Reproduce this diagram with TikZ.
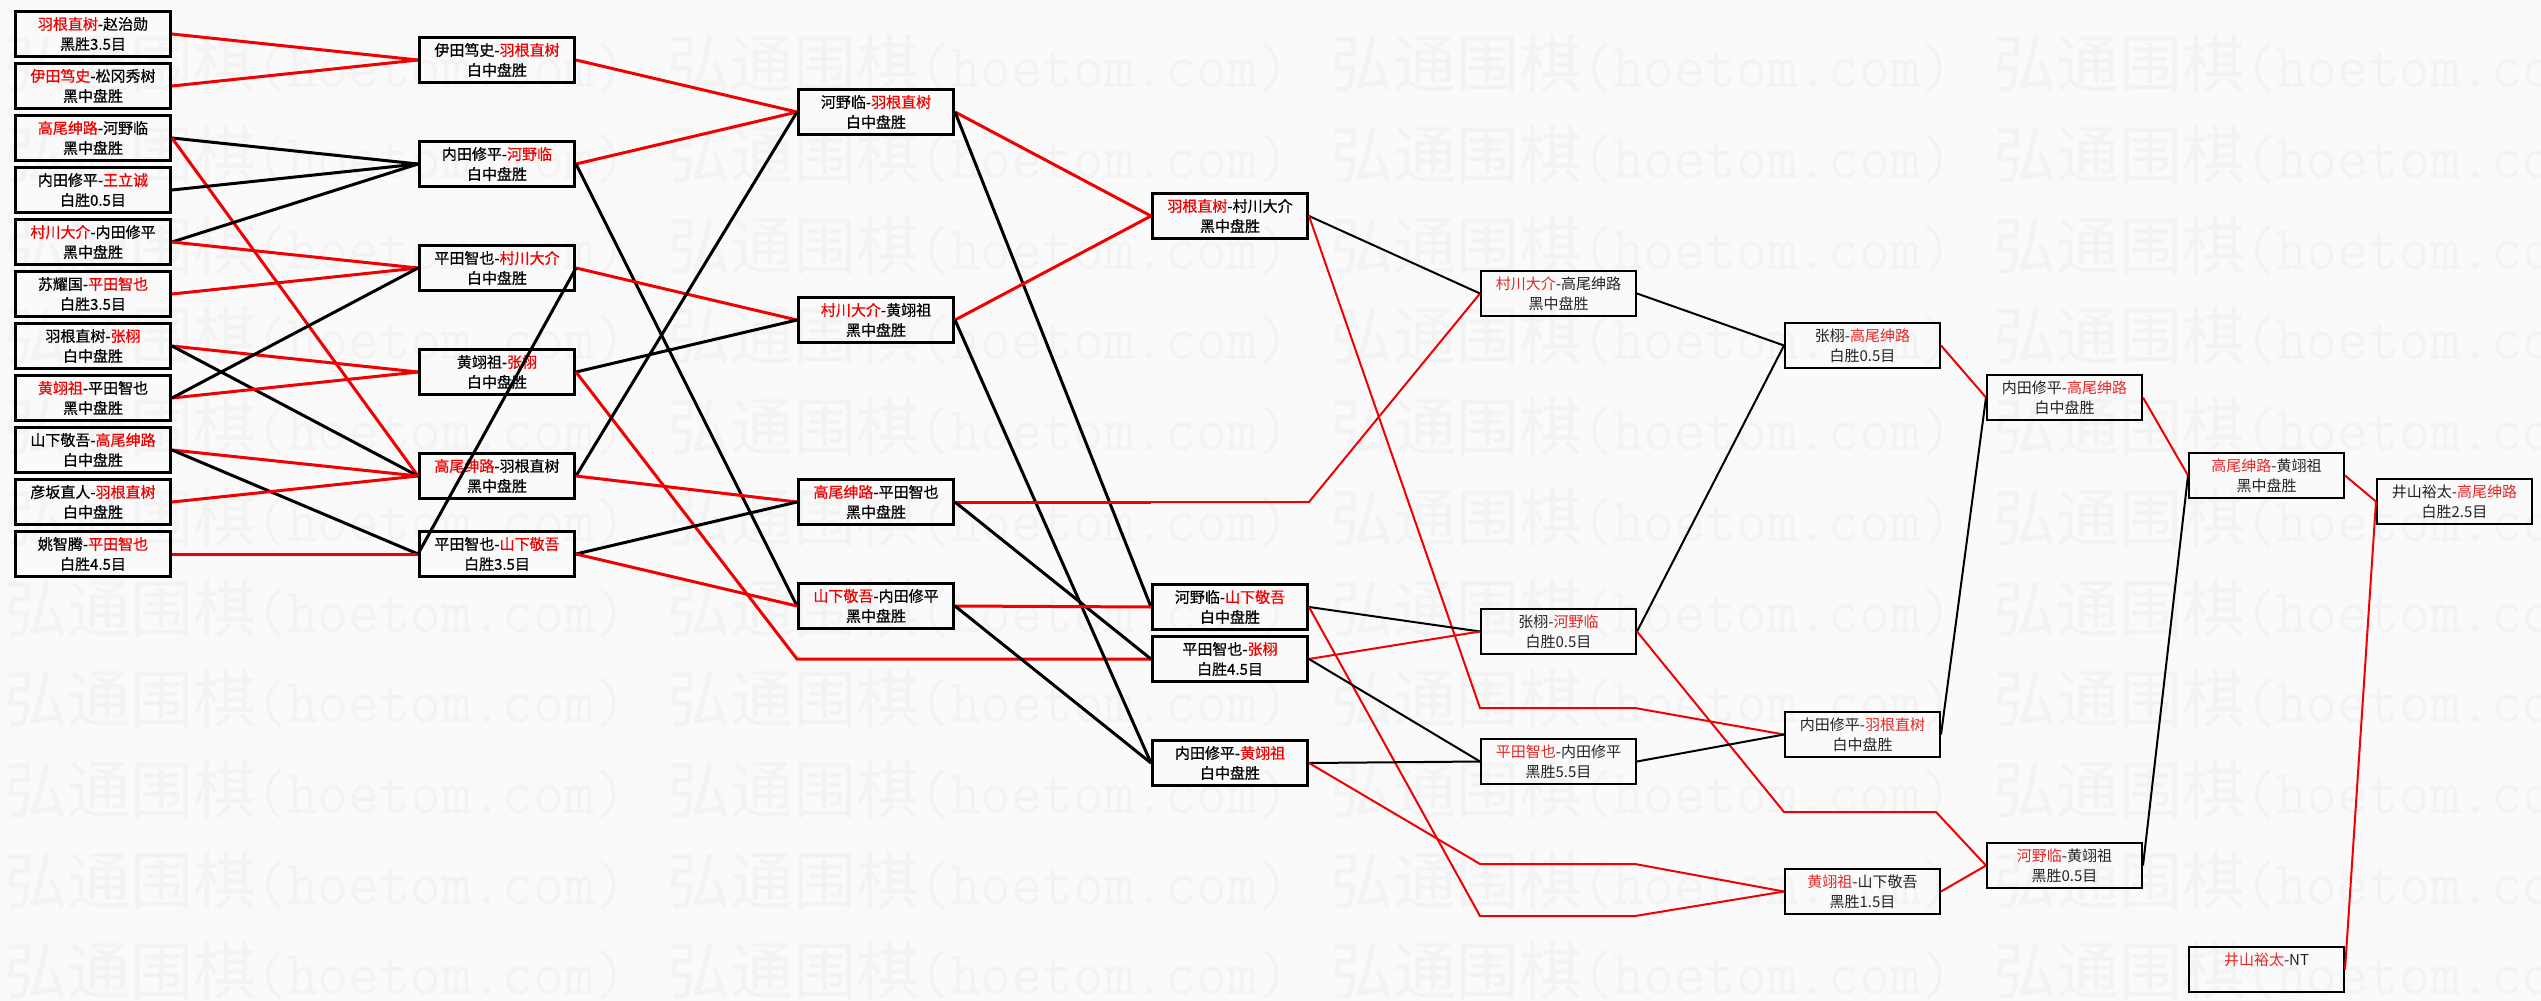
\documentclass[tikz,border=0pt]{standalone}
\usepackage{fontspec}
\setmainfont{Noto Sans CJK SC}
\newfontfamily\hvy{Noto Sans CJK SC}[FakeBold=0.6]
\newfontfamily\wmcjk{Noto Sans CJK SC}
\definecolor{wred}{RGB}{240,0,0}
\definecolor{lred}{RGB}{228,40,40}
\definecolor{lblk}{RGB}{35,35,35}
\definecolor{bgc}{RGB}{250,250,250}
\definecolor{wmc}{RGB}{243,243,243}
\newcommand{\rd}[1]{\textcolor{wred}{#1}}
\newcommand{\lr}[1]{\textcolor{lred}{#1}}
\newcommand{\wmtext}{{\wmcjk 弘通围棋}\scalebox{0.95}[1]{\ttfamily (hoetom.com)}}
\tikzset{
  bx/.style={draw=black, line width=3pt, rectangle, inner sep=0pt, anchor=north west,
    minimum width=155pt, minimum height=45pt, align=center,
    font=\hvy\fontsize{15}{20}\selectfont, execute at begin node={\rule{0pt}{17pt}}},
  bxl/.style={bx, line width=2pt, text=lblk, font=\normalfont\fontsize{15}{20}\selectfont},
  rline/.style={draw=wred, line width=3pt},
  bline/.style={draw=black, line width=3pt},
  rthin/.style={draw=wred, line width=2pt},
  bthin/.style={draw=black, line width=2pt},
  wmk/.style={anchor=west, inner sep=0pt, text=wmc, font=\fontsize{63}{63}\selectfont},
}
\begin{document}
\begin{tikzpicture}[x=1pt,y=-1pt]
\fill[bgc] (0,0) rectangle (2541,1001);
\useasboundingbox (0,0) rectangle (2541,1001);

% watermark
\begin{scope}
\clip (0,0) rectangle (2541,1001);
\foreach \r in {0,...,10}{
  \foreach \c in {0,...,3}{
    \node[wmk] (w-\r-\c) at ({4+663*\c},{64+90.7*\r}) {\wmtext};
  }
}
\end{scope}

% column 1
\node[bx] (a1) at (14,10) {\rd{羽根直树}-赵治勋\\黑胜3.5目};
\node[bx] (a2) at (14,62) {\rd{伊田笃史}-松冈秀树\\黑中盘胜};
\node[bx] (a3) at (14,114) {\rd{高尾绅路}-河野临\\黑中盘胜};
\node[bx] (a4) at (14,166) {内田修平-\rd{王立诚}\\白胜0.5目};
\node[bx] (a5) at (14,218) {\rd{村川大介}-内田修平\\黑中盘胜};
\node[bx] (a6) at (14,270) {苏耀国-\rd{平田智也}\\白胜3.5目};
\node[bx] (a7) at (14,322) {羽根直树-\rd{张栩}\\白中盘胜};
\node[bx] (a8) at (14,374) {\rd{黄翊祖}-平田智也\\黑中盘胜};
\node[bx] (a9) at (14,426) {山下敬吾-\rd{高尾绅路}\\白中盘胜};
\node[bx] (a10) at (14,478) {彦坂直人-\rd{羽根直树}\\白中盘胜};
\node[bx] (a11) at (14,530) {姚智腾-\rd{平田智也}\\白胜4.5目};

% column 2
\begin{scope}[every node/.append style={minimum width=154pt, minimum height=46pt}]
\node[bx] (b1) at (418,36) {伊田笃史-\rd{羽根直树}\\白中盘胜};
\node[bx] (b2) at (418,140) {内田修平-\rd{河野临}\\白中盘胜};
\node[bx] (b3) at (418,244) {平田智也-\rd{村川大介}\\白中盘胜};
\node[bx] (b4) at (418,348) {黄翊祖-\rd{张栩}\\白中盘胜};
\node[bx] (b5) at (418,452) {\rd{高尾绅路}-羽根直树\\黑中盘胜};
\node[bx] (b6) at (418,530) {平田智也-\rd{山下敬吾}\\白胜3.5目};
\end{scope}

% column 3
\begin{scope}[every node/.append style={minimum height=46pt}]
\node[bx] (c1) at (797,88) {河野临-\rd{羽根直树}\\白中盘胜};
\node[bx] (c2) at (797,296) {\rd{村川大介}-黄翊祖\\黑中盘胜};
\node[bx] (c3) at (797,478) {\rd{高尾绅路}-平田智也\\黑中盘胜};
\node[bx] (c4) at (797,582) {\rd{山下敬吾}-内田修平\\黑中盘胜};
\end{scope}

% column 4
\begin{scope}[every node/.append style={minimum width=154pt}]
\node[bx] (d1) at (1151,192) {\rd{羽根直树}-村川大介\\黑中盘胜};
\node[bx] (d2) at (1151,583) {河野临-\rd{山下敬吾}\\白中盘胜};
\node[bx] (d3) at (1151,635) {平田智也-\rd{张栩}\\白胜4.5目};
\node[bx] (d4) at (1151,739) {内田修平-\rd{黄翊祖}\\白中盘胜};
\end{scope}

% column 5
\node[bxl] (e1) at (1480,270) {\lr{村川大介}-高尾绅路\\黑中盘胜};
\node[bxl] (e2) at (1480,608) {张栩-\lr{河野临}\\白胜0.5目};
\node[bxl] (e3) at (1480,738) {\lr{平田智也}-内田修平\\黑胜5.5目};

% column 6
\begin{scope}[every node/.append style={minimum width=152pt}]
\node[bxl] (f1) at (1784,322) {张栩-\lr{高尾绅路}\\白胜0.5目};
\node[bxl] (f2) at (1784,711) {内田修平-\lr{羽根直树}\\白中盘胜};
\node[bxl] (f3) at (1784,868) {\lr{黄翊祖}-山下敬吾\\黑胜1.5目};
\end{scope}

% column 7
\begin{scope}[every node/.append style={minimum width=153pt}]
\node[bxl] (g1) at (1986,374) {内田修平-\lr{高尾绅路}\\白中盘胜};
\node[bxl] (g2) at (1986,842) {\lr{河野临}-黄翊祖\\黑胜0.5目};
\end{scope}

% column 8
\begin{scope}[every node/.append style={minimum width=138pt}]
\node[bxl] (h1) at (2188,452) {\lr{高尾绅路}-黄翊祖\\黑中盘胜};
\node[bxl] (h2) at (2188,946) {\lr{井山裕太}-NT\\\phantom{黑}};
\end{scope}

% column 9
\node[bxl] (i1) at (2376,478) {井山裕太-\lr{高尾绅路}\\白胜2.5目};

% bend points
\coordinate (q1) at (c4.west |- d3.west);
\coordinate (p1) at (d1.west |- c3.east);
\coordinate (p2) at (d1.east |- c3.east);
\coordinate (r1) at (1480,708);
\coordinate (r2) at (1635,708);
\coordinate (s1) at (1480,916);
\coordinate (s2) at (1635,916);
\coordinate (t1) at (1480,864);
\coordinate (t2) at (1635,864);
\coordinate (u1) at (1784,812);
\coordinate (u2) at (1936,812);

% round 1 -> 2
\draw[rline] (a1.east) -- (b1.west);
\draw[rline] (a2.east) -- (b1.west);
\draw[bline] (a3.east) -- (b2.west);
\draw[rline] (a3.east) -- (b5.west);
\draw[bline] (a4.east) -- (b2.west);
\draw[bline] (a5.east) -- (b2.west);
\draw[rline] (a5.east) -- (b3.west);
\draw[rline] (a6.east) -- (b3.west);
\draw[rline] (a7.east) -- (b4.west);
\draw[bline] (a7.east) -- (b5.west);
\draw[rline] (a8.east) -- (b4.west);
\draw[bline] (a8.east) -- (b3.west);
\draw[rline] (a9.east) -- (b5.west);
\draw[bline] (a9.east) -- (b6.west);
\draw[rline] (a10.east) -- (b5.west);
\draw[rline] (a11.east) -- (b6.west);

% round 2 -> 3
\draw[rline] (b1.east) -- (c1.west);
\draw[rline] (b2.east) -- (c1.west);
\draw[bline] (b2.east) -- (c4.west);
\draw[rline] (b3.east) -- (c2.west);
\draw[bline] (b3.east) -- (b6.west);
\draw[bline] (b4.east) -- (c2.west);
\draw[rline] (b4.east) -- (q1) -- (d3.west);
\draw[bline] (b5.east) -- (c1.west);
\draw[rline] (b5.east) -- (c3.west);
\draw[bline] (b6.east) -- (c3.west);
\draw[rline] (b6.east) -- (c4.west);

% round 3 -> 4
\draw[rline] (c1.east) -- (d1.west);
\draw[bline] (c1.east) -- (d2.west);
\draw[rline] (c2.east) -- (d1.west);
\draw[bline] (c2.east) -- (d4.west);
\draw[rline] (c3.east) -- (p1);
\draw[rthin] (p1) -- (p2) -- (e1.west);
\draw[bline] (c3.east) -- (d3.west);
\draw[rline] (c4.east) -- (d2.west);
\draw[bline] (c4.east) -- (d4.west);

% round 4 -> 5
\draw[bthin] (d1.east) -- (e1.west);
\draw[rthin] (d1.east) -- (r1) -- (r2) -- (f2.west);
\draw[bthin] (d2.east) -- (e2.west);
\draw[rthin] (d2.east) -- (s1) -- (s2) -- (f3.west);
\draw[rthin] (d3.east) -- (e2.west);
\draw[bthin] (d3.east) -- (e3.west);
\draw[bthin] (d4.east) -- (e3.west);
\draw[rthin] (d4.east) -- (t1) -- (t2) -- (f3.west);

% round 5 -> 6
\draw[bthin] (e1.east) -- (f1.west);
\draw[bthin] (e2.east) -- (f1.west);
\draw[rthin] (e2.east) -- (u1) -- (u2) -- (g2.west);
\draw[bthin] (e3.east) -- (f2.west);

% round 6 -> 7
\draw[rthin] (f1.east) -- (g1.west);
\draw[bthin] (f2.east) -- (g1.west);
\draw[rthin] (f3.east) -- (g2.west);

% round 7 -> 8
\draw[rthin] (g1.east) -- (h1.west);
\draw[bthin] (g2.east) -- (h1.west);

% round 8 -> 9
\draw[rthin] (h1.east) -- (i1.west);
\draw[rthin] (h2.east) -- (i1.west);
\end{tikzpicture}
\end{document}
